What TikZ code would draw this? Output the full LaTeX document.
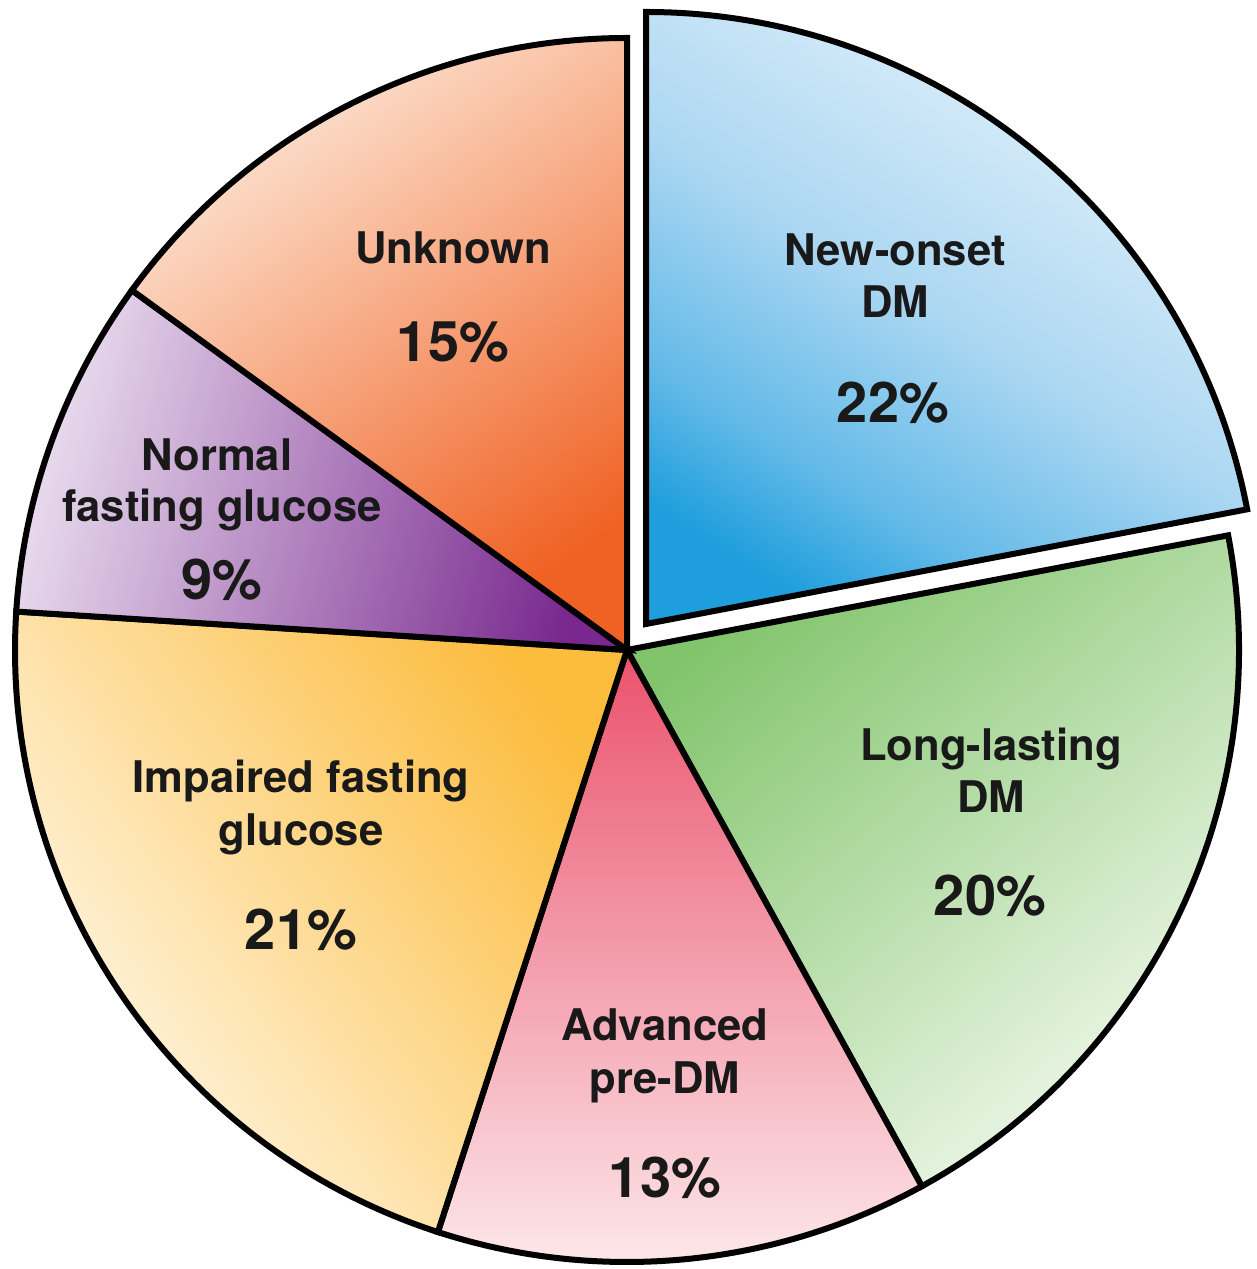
\documentclass[tikz,border=0pt]{standalone}
\usepackage{fontspec}
\setmainfont{TeX Gyre Heros}
\definecolor{blueL}{RGB}{236,246,252}
\definecolor{blueM}{RGB}{172,215,242}
\definecolor{blueQ}{RGB}{100,186,232}
\definecolor{blueD}{RGB}{30,158,220}
\pgfdeclarehorizontalshading{bluegrad}{100bp}{color(0bp)=(blueD); color(24bp)=(blueD); color(34bp)=(blueQ); color(50bp)=(blueM); color(78bp)=(blueL); color(100bp)=(blueL)}
\begin{document}
\begin{tikzpicture}[x=1pt,y=1pt,
  slice/.style={draw=black,line width=6pt,line join=miter},
  lab/.style={anchor=base,inner sep=0pt,font=\fontsize{43.6}{52}\selectfont\bfseries,text=black!90},
  pct/.style={anchor=base,inner sep=0pt,font=\fontsize{56}{60}\selectfont\bfseries,text=black!90}]
\definecolor{orangeL}{RGB}{253,232,216}
\definecolor{orangeD}{RGB}{240,98,36}
\definecolor{purpleL}{RGB}{233,220,238}
\definecolor{purpleD}{RGB}{120,40,142}
\definecolor{yellowL}{RGB}{255,250,238}
\definecolor{yellowD}{RGB}{252,188,62}
\definecolor{redL}{RGB}{253,236,238}
\definecolor{redD}{RGB}{234,82,108}
\definecolor{greenL}{RGB}{244,250,240}
\definecolor{greenD}{RGB}{130,196,108}
\useasboundingbox (0,0) rectangle (1256,1269);
\fill[white] (0,0) rectangle (1256,1269);
\coordinate (C) at (627,619);
\coordinate (B) at (646,645);
\def\R{612}
% New-onset DM (exploded)
\shade[shading=bluegrad,shading angle=58]
  (B) -- ++(10.8:\R) arc[start angle=10.8,end angle=90,radius=\R] -- cycle;
\draw[slice] (B) -- ++(10.8:\R) arc[start angle=10.8,end angle=90,radius=\R] -- cycle;
% Long-lasting DM
\shade[top color=greenL,bottom color=greenD,shading angle=-140]
  (C) -- ++(-61.2:\R) arc[start angle=-61.2,end angle=10.8,radius=\R] -- cycle;
\draw[slice] (C) -- ++(-61.2:\R) arc[start angle=-61.2,end angle=10.8,radius=\R] -- cycle;
% Advanced pre-DM
\shade[top color=redL,bottom color=redD,shading angle=180]
  (C) -- ++(-108:\R) arc[start angle=-108,end angle=-61.2,radius=\R] -- cycle;
\draw[slice] (C) -- ++(-108:\R) arc[start angle=-108,end angle=-61.2,radius=\R] -- cycle;
% Impaired fasting glucose
\shade[top color=yellowL,bottom color=yellowD,shading angle=125]
  (C) -- ++(176.4:\R) arc[start angle=176.4,end angle=252,radius=\R] -- cycle;
\draw[slice] (C) -- ++(176.4:\R) arc[start angle=176.4,end angle=252,radius=\R] -- cycle;
% Normal fasting glucose
\shade[top color=purpleL,bottom color=purpleD,shading angle=75]
  (C) -- ++(144:\R) arc[start angle=144,end angle=176.4,radius=\R] -- cycle;
\draw[slice] (C) -- ++(144:\R) arc[start angle=144,end angle=176.4,radius=\R] -- cycle;
% Unknown
\shade[top color=orangeL,bottom color=orangeD,shading angle=35]
  (C) -- ++(90:\R) arc[start angle=90,end angle=144,radius=\R] -- cycle;
\draw[slice] (C) -- ++(90:\R) arc[start angle=90,end angle=144,radius=\R] -- cycle;
% labels
\node[lab] (unk) at (453,1005) {Unknown};
\node[pct] (unkp) at (453,907) {15\%};
\node[lab] (new1) at (895,1003) {New-onset};
\node[lab] (new2) at (895,951) {DM};
\node[pct] (newp) at (893,846) {22\%};
\node[lab] (nor1) at (217,798) {Normal};
\node[lab] (nor2) at (222,747) {fasting glucose};
\node[pct] (norp) at (222,669) {9\%};
\node[lab] (imp1) at (301,476) {Impaired fasting};
\node[lab] (imp2) at (301,423) {glucose};
\node[pct] (impp) at (301,319) {21\%};
\node[lab] (lon1) at (991,508) {Long-lasting};
\node[lab] (lon2) at (991,456) {DM};
\node[pct] (lonp) at (990,353) {20\%};
\node[lab] (adv1) at (665,228) {Advanced};
\node[lab] (adv2) at (665,175) {pre-DM};
\node[pct] (advp) at (665,71) {13\%};
\end{tikzpicture}
\end{document}
